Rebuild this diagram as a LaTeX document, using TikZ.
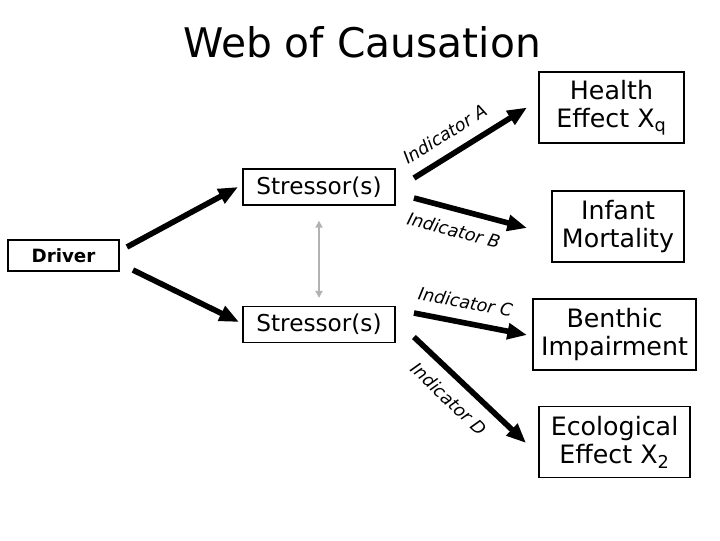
\documentclass[tikz,border=0pt]{standalone}
\usepackage{fontspec}
\setmainfont{DejaVu Sans}
\usepackage{tikz}
\usetikzlibrary{positioning,calc,arrows.meta}
\tikzset{
  box/.style={draw, line width=1.3pt, inner sep=0pt, align=center},
  stress/.style={box, minimum width=3.8cm, minimum height=0.9cm, font=\fontsize{16.5}{18}\selectfont},
  outcome/.style={box, minimum height=1.775cm, font=\fontsize{18}{20}\selectfont},
  bigarrow/.style={line width=4pt, -{Triangle[length=14pt,width=11pt]}},
  lbl/.style={sloped, inner sep=0pt, font=\itshape\fontsize{12.5}{14}\selectfont}
}
\begin{document}
\begin{tikzpicture}[x=0.025cm, y=-0.025cm]
    \useasboundingbox[fill=white] (0,0) rectangle (720,540);
    \node (title) at (362,42) {\fontsize{29}{34}\selectfont Web of Causation};
    % driver and stressors
    \node[box, minimum width=2.775cm, minimum height=0.775cm, font=\bfseries\fontsize{13}{15}\selectfont] (driver) at (63.5,255.5) {Driver};
    \node[stress] (s1) at (319,187) {Stressor(s)};
    \node[stress] (s2) at (319,324.5) {Stressor(s)};
    % effects
    \node[outcome, minimum width=3.625cm] (hx) at (611.5,107.5) {Health\\Effect X\textsubscript{q}};
    \node[outcome, minimum width=3.3cm] (im) at (618,226.5) {Infant\\Mortality};
    \node[outcome, minimum width=4.075cm] (bi) at (614.5,334.5) {Benthic\\Impairment};
    \node[outcome, minimum width=3.775cm] (ee) at (614.5,442) {Ecological\\Effect X\textsubscript{2}};
    % arrows
    \draw[bigarrow] ($(driver.east)+(7,-8.5)$) -- ($(s1.west)+(-4,0)$);
    \draw[bigarrow] ($(driver.east)+(13,14.5)$) -- ($(s2.west)+(-3,-2.5)$);
    \draw[gray!60, line width=1.2pt, {Triangle[length=5pt,width=5pt]}-{Triangle[length=5pt,width=5pt]}, shorten <=10.5pt, shorten >=5.5pt] (s1.south) -- (s2.north);
    \draw[bigarrow] ($(s1.east)+(18,-9)$) -- ($(hx.west)+(-11,0)$) node[lbl, pos=0.37, above=8pt] {Indicator A};
    \draw[bigarrow] ($(s1.east)+(18,11)$) -- ($(im.west)+(-24,1.5)$) node[lbl, pos=0.40, below=8pt] {Indicator B};
    \draw[bigarrow] ($(s2.east)+(18,-11.5)$) -- ($(bi.west)+(-5,0.5)$) node[lbl, pos=0.42, above=8pt] {Indicator C};
    \draw[bigarrow] ($(s2.east)+(18,12.5)$) -- ($(ee.west)+(-12,1)$) node[lbl, pos=0.44, below=8pt] {Indicator D};
\end{tikzpicture}
\end{document}
